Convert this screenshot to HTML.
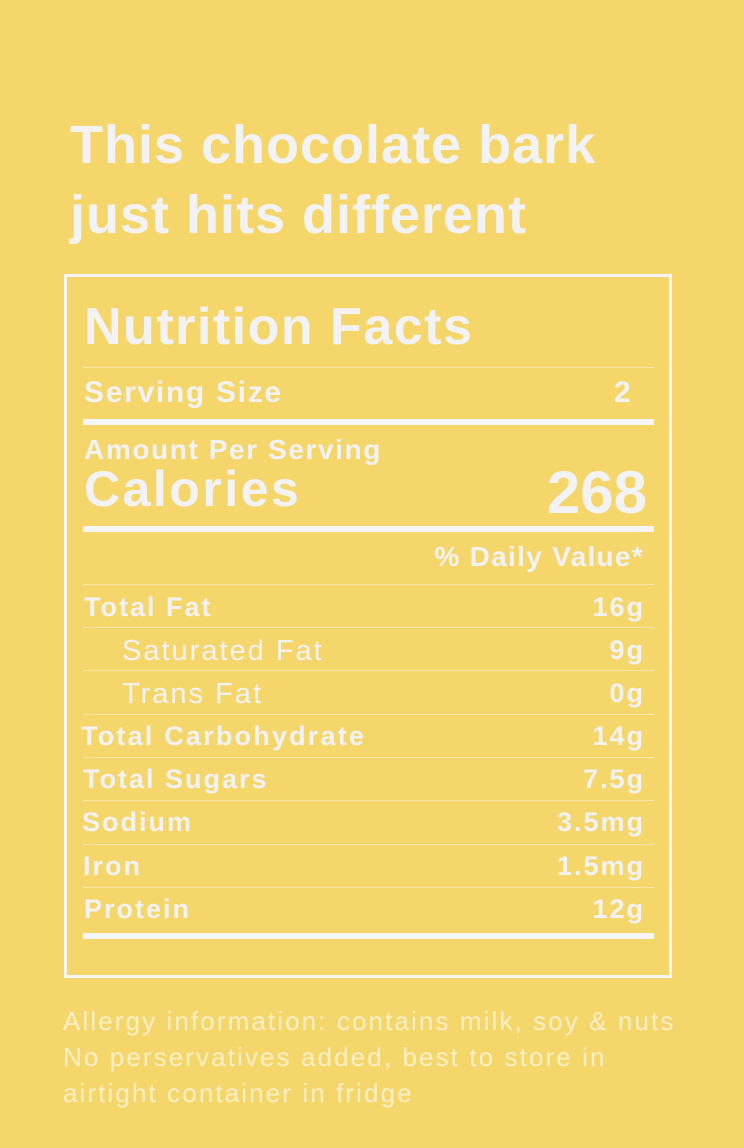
<!DOCTYPE html>
<html><head><meta charset="utf-8"><style>
body{margin:0;width:744px;height:1148px;background:#F5D66B;position:relative;overflow:hidden;font-family:"Liberation Sans",sans-serif;color:#F3F3F6}
.a{position:absolute;white-space:nowrap}
.b{font-weight:bold}
.hl{position:absolute;left:83px;width:571px;background:#F8E7A6;height:1px}
.th{position:absolute;left:83px;width:571px;background:#F6F6F8;height:6px}
.r{right:101px;text-align:right}
.row{font-size:27px;letter-spacing:2px}
</style></head><body>
<div class="a b" style="left:70px;top:110px;font-size:54px;letter-spacing:1px;line-height:70px">This chocolate bark<br>just hits different</div>
<div style="position:absolute;left:64px;top:274px;width:602px;height:698px;border:3px solid #F6F6F8"></div>
<div class="a b" style="left:84px;top:297px;font-size:52px;letter-spacing:1.5px">Nutrition Facts</div>
<div class="hl" style="top:367px"></div>
<div class="a b" style="left:84px;top:376px;font-size:30px;letter-spacing:1.7px">Serving Size</div>
<div class="a b" style="left:614px;top:376px;font-size:30px">2</div>
<div class="th" style="top:419px"></div>
<div class="a b" style="left:84px;top:434px;font-size:28px;letter-spacing:1.6px">Amount Per Serving</div>
<div class="a b" style="left:84px;top:460px;font-size:50px;letter-spacing:2.5px">Calories</div>
<div class="a b r" style="top:458px;font-size:60px;right:97px">268</div>
<div class="th" style="top:526px"></div>
<div class="a b r" style="top:541px;font-size:28px;right:100px;letter-spacing:1.3px">% Daily Value*</div>
<div class="hl" style="top:584px"></div>
<div class="a b row" style="left:84px;top:592px">Total Fat</div><div class="a b r row" style="top:592px;right:99px">16g</div>
<div class="hl" style="top:627px"></div>
<div class="a row" style="left:122px;top:635px;font-size:29px">Saturated Fat</div><div class="a b r row" style="top:635px;right:99px">9g</div>
<div class="hl" style="top:670px"></div>
<div class="a row" style="left:122px;top:678px;font-size:29px">Trans Fat</div><div class="a b r row" style="top:678px;right:99px">0g</div>
<div class="hl" style="top:714px"></div>
<div class="a b row" style="left:81px;top:721px;letter-spacing:2.2px">Total Carbohydrate</div><div class="a b r row" style="top:721px;right:99px">14g</div>
<div class="hl" style="top:757px"></div>
<div class="a b row" style="left:83px;top:764px">Total Sugars</div><div class="a b r row" style="top:764px;right:99px">7.5g</div>
<div class="hl" style="top:800px"></div>
<div class="a b row" style="left:82px;top:807px">Sodium</div><div class="a b r row" style="top:807px;right:99px">3.5mg</div>
<div class="hl" style="top:844px"></div>
<div class="a b row" style="left:83px;top:851px">Iron</div><div class="a b r row" style="top:851px;right:99px">1.5mg</div>
<div class="hl" style="top:887px"></div>
<div class="a b row" style="left:84px;top:894px">Protein</div><div class="a b r row" style="top:894px;right:99px">12g</div>
<div class="th" style="top:933px"></div>
<div class="a" style="left:63px;top:1003px;font-size:26px;line-height:36px;letter-spacing:2.1px;color:#FAF0C8">Allergy information: contains milk, soy &amp; nuts<br>No perservatives added, best to store in<br>airtight container in fridge</div>
</body></html>
